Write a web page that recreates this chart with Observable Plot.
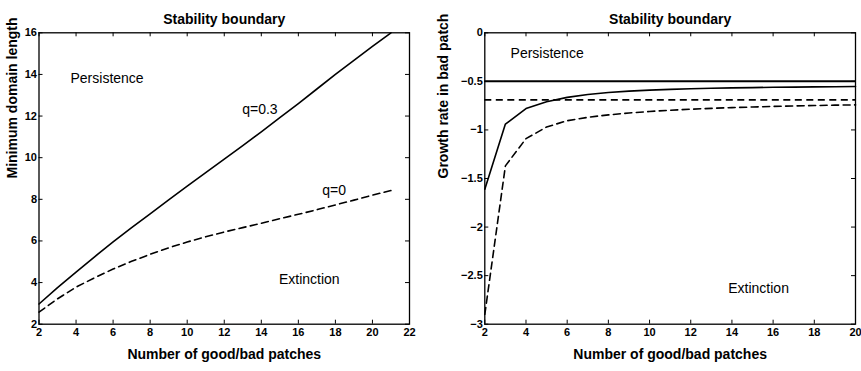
<!DOCTYPE html>
<html>
<head>
<meta charset="utf-8">
<script src="https://cdn.jsdelivr.net/npm/d3@7"></script>
<script src="https://cdn.jsdelivr.net/npm/@observablehq/plot@0.6"></script>
<style>
  html, body { margin: 0; padding: 0; background: #fff; }
  #charts { display: flex; width: 861px; height: 371px; }
</style>
</head>
<body>
<div id="charts"></div>
<script>
// Left panel: minimum domain length vs number of good/bad patches
const patchesLeft = [2, 3, 4, 5, 6, 7, 8, 9, 10, 11, 12, 13, 14, 15, 16, 17, 18, 19, 20, 21];
const lengthQ03 = [2.97, 3.76, 4.5, 5.24, 5.95, 6.64, 7.3, 7.97, 8.63, 9.28, 9.93, 10.58, 11.24, 11.92, 12.6, 13.3, 14.0, 14.67, 15.35, 16.0];
const lengthQ0 = [2.58, 3.22, 3.78, 4.23, 4.65, 5.02, 5.36, 5.67, 5.95, 6.2, 6.43, 6.64, 6.85, 7.07, 7.28, 7.5, 7.73, 7.96, 8.2, 8.42];

// Right panel: growth rate in bad patch vs number of good/bad patches
const patchesRight = [2, 3, 4, 5, 6, 7, 8, 9, 10, 11, 12, 13, 14, 15, 16, 17, 18, 19, 20];
const rateSolid = [-1.61, -0.94, -0.78, -0.71, -0.665, -0.635, -0.615, -0.6, -0.59, -0.582, -0.576, -0.571, -0.567, -0.564, -0.561, -0.559, -0.557, -0.555, -0.553];
const rateDashed = [-2.9, -1.37, -1.09, -0.97, -0.905, -0.87, -0.845, -0.826, -0.81, -0.797, -0.787, -0.778, -0.77, -0.764, -0.758, -0.753, -0.749, -0.745, -0.742];
const limitSolid = -0.5;
const limitDashed = -0.69;

// Ticks
const xTicksLeft = [2, 4, 6, 8, 10, 12, 14, 16, 18, 20, 22];
const yTicksLeft = [2, 4, 6, 8, 10, 12, 14, 16];
const xTicksRight = [2, 4, 6, 8, 10, 12, 14, 16, 18, 20];
const yTicksRight = [0, -0.5, -1, -1.5, -2, -2.5, -3];

const titleText = "Stability boundary";
const xLabel = "Number of good/bad patches";

const FONT = "'Liberation Sans', Arial, Helvetica, sans-serif";
const DASH = "7,4.5";
const TICK = 4;

// Boxed axes with inward tick marks on all four sides
function boxAxes(xTicks, yTicks, yFormat, frameW, frameH) {
  const tick = {stroke: "black", strokeWidth: 1};
  const label = {fontSize: 11, fontWeight: "bold", fill: "black"};
  return [
    Plot.tickX(xTicks, {x: d => d, insetTop: frameH - TICK, ...tick}),
    Plot.tickX(xTicks, {x: d => d, insetBottom: frameH - TICK, ...tick}),
    Plot.tickY(yTicks, {y: d => d, insetRight: frameW - TICK, ...tick}),
    Plot.tickY(yTicks, {y: d => d, insetLeft: frameW - TICK, ...tick}),
    Plot.text(xTicks, {x: d => d, text: d => String(d), frameAnchor: "bottom", lineAnchor: "top", dy: 4, ...label}),
    Plot.text(yTicks, {y: d => d, text: yFormat, frameAnchor: "left", textAnchor: "end", dx: -2, ...label})
  ];
}

function labels(yLabel, yLabelOffset) {
  return [
    Plot.text([titleText], {text: d => d, frameAnchor: "top", dy: -19, fontSize: 14, fontWeight: "bold", fill: "black"}),
    Plot.text([xLabel], {text: d => d, frameAnchor: "bottom", dy: 35, fontSize: 14, fontWeight: "bold", fill: "black"}),
    Plot.text([yLabel], {text: d => d, frameAnchor: "left", rotate: -90, dx: -yLabelOffset, fontSize: 14, fontWeight: "bold", fill: "black"})
  ];
}

const H = 371, MT = 32.3, MB = 47.3;

const LW = 430, LML = 38.5, LMR = 21;
const left = Plot.plot({
  width: LW,
  height: H,
  marginLeft: LML,
  marginRight: LMR,
  marginTop: MT,
  marginBottom: MB,
  style: {fontFamily: FONT, background: "white", color: "black", overflow: "visible"},
  x: {domain: [2, 22], axis: null},
  y: {domain: [2, 16], axis: null},
  marks: [
    Plot.line(patchesLeft, {x: d => d, y: (d, i) => lengthQ03[i], stroke: "black", strokeWidth: 1.6}),
    Plot.line(patchesLeft, {x: d => d, y: (d, i) => lengthQ0[i], stroke: "black", strokeWidth: 1.6, strokeDasharray: DASH}),
    Plot.text(["Persistence"], {x: 3.7, y: 13.8, text: d => d, textAnchor: "start", fontSize: 14, fill: "black"}),
    Plot.text(["q=0.3"], {x: 12.97, y: 12.3, text: d => d, textAnchor: "start", fontSize: 14, fill: "black"}),
    Plot.text(["q=0"], {x: 17.29, y: 8.42, text: d => d, textAnchor: "start", fontSize: 14, fill: "black"}),
    Plot.text(["Extinction"], {x: 14.95, y: 4.14, text: d => d, textAnchor: "start", fontSize: 14, fill: "black"}),
    ...boxAxes(xTicksLeft, yTicksLeft, d => String(d), LW - LML - LMR, H - MT - MB),
    Plot.frame({stroke: "black", strokeWidth: 1.3}),
    ...labels("Minimum domain length", 26)
  ]
});

const RW = 431, RML = 54.3, RMR = 6;
const right = Plot.plot({
  width: RW,
  height: H,
  marginLeft: RML,
  marginRight: RMR,
  marginTop: MT,
  marginBottom: MB,
  style: {fontFamily: FONT, background: "white", color: "black", overflow: "visible"},
  x: {domain: [2, 20], axis: null},
  y: {domain: [-3, 0], axis: null},
  marks: [
    Plot.ruleY([limitSolid], {stroke: "black", strokeWidth: 2}),
    Plot.ruleY([limitDashed], {stroke: "black", strokeWidth: 1.7, strokeDasharray: DASH}),
    Plot.line(patchesRight, {x: d => d, y: (d, i) => rateSolid[i], stroke: "black", strokeWidth: 1.6}),
    Plot.line(patchesRight, {x: d => d, y: (d, i) => rateDashed[i], stroke: "black", strokeWidth: 1.6, strokeDasharray: DASH}),
    Plot.text(["Persistence"], {x: 3.25, y: -0.21, text: d => d, textAnchor: "start", fontSize: 14, fill: "black"}),
    Plot.text(["Extinction"], {x: 13.82, y: -2.63, text: d => d, textAnchor: "start", fontSize: 14, fill: "black"}),
    ...boxAxes(xTicksRight, yTicksRight, d => d === 0 ? "0" : "\u2212" + String(Math.abs(d)), RW - RML - RMR, H - MT - MB),
    Plot.frame({stroke: "black", strokeWidth: 1.3}),
    ...labels("Growth rate in bad patch", 41)
  ]
});

document.getElementById("charts").append(left, right);
</script>
</body>
</html>
